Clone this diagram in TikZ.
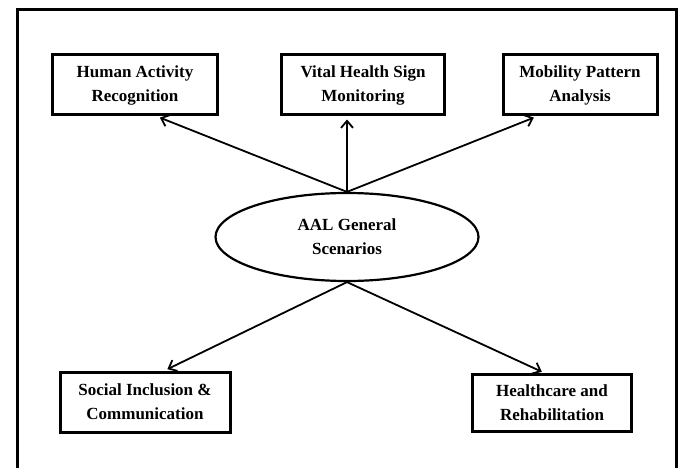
\documentclass[tikz,border=0pt]{standalone}
\usepackage{fontspec}
\setmainfont{Liberation Serif}
\usetikzlibrary{shapes.geometric,arrows.meta}

\tikzset{
	scenbox/.style={draw, line width=3pt, align=center, inner sep=2pt,
		font=\bfseries\fontsize{17}{24}\selectfont, minimum height=60pt},
	hub/.style={draw, ellipse, line width=2.2pt, align=center,
		font=\bfseries\fontsize{17}{24}\selectfont, minimum width=263pt, minimum height=88pt},
	link/.style={line width=1.8pt, -{Straight Barb[length=7pt,width=12pt]}, shorten >=3pt}
}

\begin{document}
\begin{tikzpicture}[x=1pt, y=-1pt]
	\useasboundingbox (0, 0) rectangle (683, 468);
	% frame, open at the bottom
	\draw[line width=3pt] (17, 475) -- (17, 10) -- (676, 10) -- (676, 475);

	\node[hub] (aal) at (347, 237) {AAL General\\Scenarios};

	\node[scenbox, minimum width=165pt] (har) at (135, 85) {Human Activity\\Recognition};
	\node[scenbox, minimum width=163pt] (vhs) at (363, 85) {Vital Health Sign\\Monitoring};
	\node[scenbox, minimum width=154pt] (mpa) at (580, 85) {Mobility Pattern\\Analysis};
	\node[scenbox, minimum width=170pt] (sic) at (145, 402) {Social Inclusion \&\\Communication};
	\node[scenbox, minimum width=159pt, minimum height=57pt] (hr) at (552, 403) {Healthcare and\\Rehabilitation};

	\draw[link] (aal.north) -- (har.-55);
	\draw[link] (aal.north) -- (vhs.south -| aal.north);
	\draw[link] (aal.north) -- (mpa.-144);
	\draw[link] (aal.south) -- (sic.58);
	\draw[link] (aal.south) -- (hr.104);
\end{tikzpicture}
\end{document}
